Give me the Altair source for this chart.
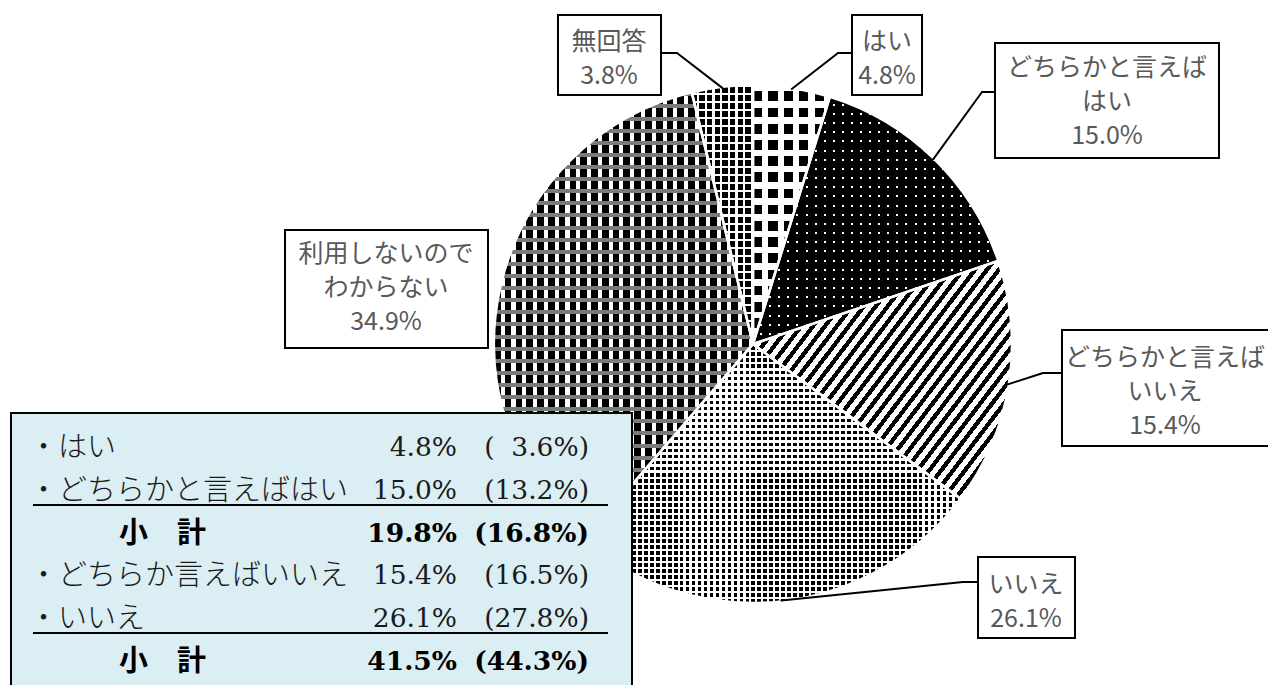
import math
import altair as alt
import pandas as pd

# ---------------- data ----------------
categories = ["はい", "どちらかと言えばはい", "どちらかと言えばいいえ", "いいえ", "利用しないのでわからない", "無回答"]
values = [4.8, 15.0, 15.4, 26.1, 34.9, 3.8]
label_lines = [["はい"], ["どちらかと言えば", "はい"], ["どちらかと言えば", "いいえ"],
               ["いいえ"], ["利用しないので", "わからない"], ["無回答"]]

table_labels = ["・はい", "・どちらかと言えばはい", "小　計", "・どちらか言えばいいえ", "・いいえ", "小　計"]
table_current = [4.8, 15.0, 19.8, 15.4, 26.1, 41.5]
table_previous = [3.6, 13.2, 16.8, 16.5, 27.8, 44.3]
table_subtotal = [False, False, True, False, False, True]

# ---------------- layout (page pixels) ----------------
W, H = 1260, 677
M = 8
CX, CY, R = 753, 344, 259

label_layout = {
    "はい": dict(box=(852, 15, 922, 95), cx=887, y0=42, path=[(852, 53), (838, 53)]),
    "どちらかと言えばはい": dict(box=(995, 43, 1219, 158), cx=1107, y0=68, path=[(995, 92), (982, 92)]),
    "どちらかと言えばいいえ": dict(box=(1062, 330, 1300, 446), cx=1165, y0=358, path=[(1062, 373), (1043, 373)]),
    "いいえ": dict(box=(978, 557, 1075, 638), cx=1026, y0=585, path=[(978, 582), (963, 582)]),
    "利用しないのでわからない": dict(box=(285, 230, 488, 348), cx=386, y0=254, path=[]),
    "無回答": dict(box=(558, 15, 661, 95), cx=609, y0=42, path=[(661, 53), (677, 53)]),
}
LABEL_FONT = "Noto Sans CJK JP"
LABEL_SIZE = 25
LABEL_LH = 34
LABEL_COLOR = "#595959"

TABLE_BOX = (11, 413, 632, 760)
TABLE_ROW_Y0, TABLE_ROW_DY = 448, 42.8
TABLE_X_LABEL, TABLE_X_SUB = 29, 119
TABLE_X_CUR, TABLE_X_PREV = 457, 589
TABLE_RULES = [(33, 505, 608), (33, 633, 608)]
TABLE_SIZE = 29
NUM_FONT = "DejaVu Serif"
NUM_SIZE = 26.5

xs = alt.Scale(domain=[M, M + W], range=[0, W], nice=False, zero=False)
ys = alt.Scale(domain=[M, M + H], range=[0, H], nice=False, zero=False)

# ---------------- pattern helpers (styles) ----------------
def stops(on, off, n, duty):
    s = []
    for i in range(n):
        a, b, c = i / n, (i + duty) / n, (i + 1) / n
        s += [{"offset": round(a, 5), "color": on}, {"offset": round(b, 5), "color": on},
              {"offset": round(b, 5), "color": off}, {"offset": round(c, 5), "color": off}]
    return s


def vgrad(on, off, n, duty):  # vertical stripes (gradient along x)
    return {"gradient": "linear", "x1": 0, "y1": 0, "x2": 1, "y2": 0, "stops": stops(on, off, n, duty)}


def hgrad(on, off, n, duty):  # horizontal stripes (gradient along y)
    return {"gradient": "linear", "x1": 0, "y1": 0, "x2": 0, "y2": 1, "stops": stops(on, off, n, duty)}


def dgrad(on, off, period, duty, k, w, h):
    s = (1 + k) / (1 + k * k)
    vx, vy = s, k * s
    v2 = vx * vx + vy * vy
    total = 1 / math.hypot(vx / (w * v2), vy / (h * v2))
    n = max(1, round(total / period))
    return {"gradient": "linear", "x1": 0, "y1": 0, "x2": round(vx, 4), "y2": round(vy, 4),
            "stops": stops(on, off, n, duty)}


def arc_bbox(a0, a1):
    pts = [(0.0, 0.0)]
    for a in [a0, a1] + [k for k in (0, 90, 180, 270, 360) if a0 < k < a1]:
        t = math.radians(a)
        pts.append((R * math.sin(t), -R * math.cos(t)))
    px = [p[0] for p in pts]
    py = [p[1] for p in pts]
    return max(px) - min(px), max(py) - min(py)


cum = []
acc = 0.0
for v in values:
    cum.append((acc, acc + v))
    acc += v
bbox = {c: arc_bbox(a * 3.6, b * 3.6) for c, (a, b) in zip(categories, cum)}

CLEAR = "rgba(255,255,255,0)"


def n_of(length, period):
    return max(1, round(length / period))


patterns = {}
w, h = bbox["はい"]
patterns["はい"] = [vgrad("#000", "#fff", n_of(w, 16), 0.6), hgrad("#fff", CLEAR, n_of(h, 16), 0.4)]
w, h = bbox["どちらかと言えばはい"]
patterns["どちらかと言えばはい"] = [vgrad("#000", "#fff", n_of(w, 9), 0.78), hgrad("#000", CLEAR, n_of(h, 9), 0.78)]
w, h = bbox["どちらかと言えばいいえ"]
patterns["どちらかと言えばいいえ"] = [dgrad("#000", "#fff", 9.5, 0.45, 0.7, w, h)]
w, h = bbox["いいえ"]
patterns["いいえ"] = [vgrad("#000", "#fff", n_of(w, 6), 0.62), hgrad("#fff", CLEAR, n_of(h, 6), 0.4)]
w, h = bbox["利用しないのでわからない"]
patterns["利用しないのでわからない"] = [vgrad("#000", "#fff", n_of(w, 11), 0.62), hgrad("#7a7a7a", CLEAR, n_of(h, 12), 0.33)]
w, h = bbox["無回答"]
patterns["無回答"] = [vgrad("#000", "#fff", n_of(w, 8), 0.7), hgrad("#fff", CLEAR, n_of(h, 8), 0.25)]

# ---------------- pie ----------------
pie_df = pd.DataFrame({"category": categories, "value": values, "order": list(range(len(categories)))})
base = (alt.Chart(pie_df)
        .transform_window(cum="sum(value)", sort=[alt.SortField("order")], frame=[None, 0])
        .transform_calculate(start="datum.cum - datum.value"))
theta_scale = alt.Scale(domain=[0, 100], range=[0, 2 * math.pi])
arc_enc = dict(theta=alt.Theta("start:Q", scale=theta_scale, stack=False),
               theta2=alt.Theta2("cum:Q"),
               x=alt.value(CX - M), y=alt.value(CY - M))

layers = []
for cat in categories:
    for g in patterns[cat]:
        layers.append(base.transform_filter(alt.datum.category == cat)
                      .mark_arc(outerRadius=R, fill=g, strokeWidth=0)
                      .encode(**arc_enc))
layers.append(base.mark_arc(outerRadius=R, fill="white", fillOpacity=0, stroke="white", strokeWidth=2.5)
              .encode(**arc_enc))

# ---------------- leader lines ----------------
seg_rows = []
for cat, (a, b) in zip(categories, cum):
    path = label_layout[cat]["path"]
    if not path:
        continue
    t = math.radians((a + b) / 2 * 3.6)
    pts = path + [(CX + (R - 1) * math.sin(t), CY - (R - 1) * math.cos(t))]
    for (x1, y1), (x2, y2) in zip(pts[:-1], pts[1:]):
        seg_rows.append({"x": x1, "y": y1, "x2": x2, "y2": y2})
seg_df = pd.DataFrame(seg_rows)
layers.append(alt.Chart(seg_df).mark_rule(color="black", strokeWidth=2, strokeCap="round").encode(
    x=alt.X("x:Q", scale=xs, axis=None), y=alt.Y("y:Q", scale=ys, axis=None),
    x2="x2:Q", y2="y2:Q"))

# ---------------- label boxes ----------------
box_rows, text_rows = [], []
for cat, v, lines in zip(categories, values, label_lines):
    lay = label_layout[cat]
    x0, y0, x1, y1 = lay["box"]
    box_rows.append({"x": x0, "y": y0, "x2": x1, "y2": y1})
    for i, ln in enumerate(lines + [f"{v:.1f}%"]):
        text_rows.append({"x": lay["cx"], "y": lay["y0"] + i * LABEL_LH, "text": ln})
box_df = pd.DataFrame(box_rows)
text_df = pd.DataFrame(text_rows)
layers.append(alt.Chart(box_df).mark_rect(fill="white", stroke="black", strokeWidth=2).encode(
    x=alt.X("x:Q", scale=xs, axis=None), y=alt.Y("y:Q", scale=ys, axis=None), x2="x2:Q", y2="y2:Q"))
layers.append(alt.Chart(text_df).mark_text(font=LABEL_FONT, fontSize=LABEL_SIZE, color=LABEL_COLOR,
                                           align="center", baseline="middle").encode(
    x=alt.X("x:Q", scale=xs, axis=None), y=alt.Y("y:Q", scale=ys, axis=None), text="text:N"))

# ---------------- table ----------------
tb = TABLE_BOX
tbox_df = pd.DataFrame([{"x": tb[0], "y": tb[1], "x2": tb[2], "y2": tb[3]}])
layers.append(alt.Chart(tbox_df).mark_rect(fill="#DAEEF3", stroke="black", strokeWidth=2).encode(
    x=alt.X("x:Q", scale=xs, axis=None), y=alt.Y("y:Q", scale=ys, axis=None), x2="x2:Q", y2="y2:Q"))
trule_df = pd.DataFrame([{"x": a, "y": y, "x2": b, "y2": y} for a, y, b in TABLE_RULES])
layers.append(alt.Chart(trule_df).mark_rule(color="black", strokeWidth=2).encode(
    x=alt.X("x:Q", scale=xs, axis=None), y=alt.Y("y:Q", scale=ys, axis=None), x2="x2:Q", y2="y2:Q"))

rows = []
for i, (lab, c, p, sub) in enumerate(zip(table_labels, table_current, table_previous, table_subtotal)):
    pad = "\u2007" if p < 10 else ""
    rows.append({"label": lab, "cur": f"{c:.1f}%", "prev": f"({pad}{p:.1f}%)",
                 "sub": sub, "y": TABLE_ROW_Y0 + i * TABLE_ROW_DY,
                 "lx": TABLE_X_SUB if sub else TABLE_X_LABEL})
tdf = pd.DataFrame(rows)
for sub in (False, True):
    wt = "bold" if sub else 300
    col = "#000000" if sub else "#1a1a1a"
    d = tdf[tdf["sub"] == sub]
    ch = alt.Chart(d)
    layers.append(ch.mark_text(font=LABEL_FONT, fontSize=TABLE_SIZE, fontWeight=wt, color=col,
                               align="left", baseline="middle").encode(
        x=alt.X("lx:Q", scale=xs, axis=None), y=alt.Y("y:Q", scale=ys, axis=None), text="label:N"))
    layers.append(ch.mark_text(font=NUM_FONT, fontSize=NUM_SIZE, fontWeight="bold" if sub else "normal",
                               color=col, align="right", baseline="middle").encode(
        x=alt.value(TABLE_X_CUR - M), y=alt.Y("y:Q", scale=ys, axis=None), text="cur:N"))
    layers.append(ch.mark_text(font=NUM_FONT, fontSize=NUM_SIZE, fontWeight="bold" if sub else "normal",
                               color=col, align="right", baseline="middle").encode(
        x=alt.value(TABLE_X_PREV - M), y=alt.Y("y:Q", scale=ys, axis=None), text="prev:N"))

chart = (alt.layer(*layers)
         .properties(width=W, height=H, padding=0, autosize=alt.AutoSizeParams(type="none"))
         .configure_view(stroke=None))

chart.save("out.html", embed_options={"renderer": "svg", "actions": False})
